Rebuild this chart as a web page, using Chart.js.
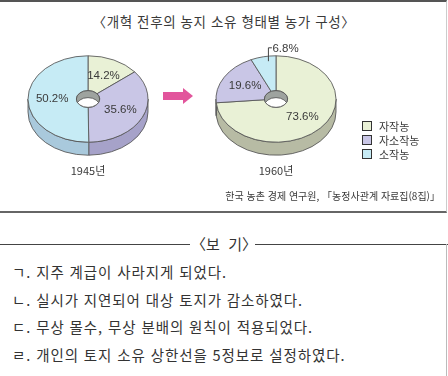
<!DOCTYPE html>
<html lang="ko">
<head>
  <meta charset="UTF-8">
  <title>개혁 전후의 농지 소유 형태별 농가 구성</title>
  <style>
    body { margin: 0; width: 448px; height: 376px; position: relative; background: #fff; overflow: hidden;
           font-family: "Noto Sans CJK KR", "Noto Sans", sans-serif; color: #333; }
    .abs { position: absolute; }
    #panel { left: 0; top: 0; width: 447px; height: 213px; box-sizing: border-box;
             border-top: 2px solid #555; border-bottom: 2px solid #666; border-right: 1px solid #ccc; }
    #title { left: 0; width: 448px; top: 11px; text-align: center; font-size: 13.5px; letter-spacing: 0.6px; color: #3a3a3a; }
    .year { font-size: 11px; width: 80px; text-align: center; top: 162px; color: #3a3a3a; }
    #legend { left: 362px; top: 119px; font-size: 11px; color: #3a3a3a; }
    #legend div { height: 14px; line-height: 14px; display: flex; align-items: center; }
    #legend span.box { width: 8px; height: 8px; border: 1px solid #333; margin-right: 7px; display: inline-block; }
    #source { right: 8px; top: 188px; font-size: 10px; color: #3a3a3a; white-space: nowrap; }
    #bogi { left: 0; top: 233px; width: 448px; height: 22px; }
    #bogi .line { position: absolute; top: 11px; height: 1px; background: #444; }
    #bogi .txt { position: absolute; left: 0; width: 448px; text-align: center; font-size: 15px; line-height: 22px; color: #333; }
    #rightEdge { left: 446px; top: 244px; width: 1px; height: 132px; background: #bbb; }
    #items { left: 12px; top: 260px; font-size: 14.5px; letter-spacing: 0.9px; color: #333; }
    #items div { height: 27.7px; line-height: 24px; white-space: nowrap; }
  </style>
</head>
<body>
  <div id="panel" class="abs"></div>
  <div id="title" class="abs">〈개혁 전후의 농지 소유 형태별 농가 구성〉</div>

  <canvas id="chart1945" class="abs" width="130" height="130" style="left:23px; top:34px;"></canvas>
  <canvas id="chart1960" class="abs" width="130" height="130" style="left:211px; top:34px;"></canvas>

  <svg class="abs" width="32" height="16" style="left:162px; top:88px;">
    <polygon points="1,4 21,4 21,0 31,8 21,16 21,12 1,12" fill="#e2559c"/>
  </svg>

  <div id="year0" class="abs year" style="left:48px;"></div>
  <div id="year1" class="abs year" style="left:236px;"></div>

  <div id="legend" class="abs"></div>
  <div id="source" class="abs">한국 농촌 경제 연구원, 「농정사관계 자료집(8집)」</div>

  <div id="bogi" class="abs">
    <div class="line" style="left:0; width:190px;"></div>
    <div class="line" style="left:255px; width:193px;"></div>
    <div class="txt">〈보&nbsp;&nbsp;기〉</div>
  </div>
  <div id="rightEdge" class="abs"></div>
  <div id="items" class="abs"></div>

  <script src="https://cdn.jsdelivr.net/npm/chart.js"></script>
  <script>
    // data
    const categories = ['자작농', '자소작농', '소작농'];
    const years = ['1945년', '1960년'];
    const values1945 = [14.2, 35.6, 50.2];
    const values1960 = [73.6, 19.6, 6.8];
    const bogiItems = [
      'ㄱ. 지주 계급이 사라지게 되었다.',
      'ㄴ. 실시가 지연되어 대상 토지가 감소하였다.',
      'ㄷ. 무상 몰수, 무상 분배의 원칙이 적용되었다.',
      'ㄹ. 개인의 토지 소유 상한선을 5정보로 설정하였다.'
    ];

    const topColors = ['#e9f1d6', '#c9c6e6', '#c6ebf5'];
    const sideColors = ['#b7bba4', '#a6a2c9', '#a9c9dc'];
    const EDGE = '#555';
    const SQUASH = 0.72;   // tilt of the disc
    const DEPTH = 13;      // thickness of the disc, px on screen
    const HOLE_DEPTH = 7;

    // tilted "3D" doughnut: squash the disc, draw the wall under it and the hole
    const pie3d = {
      id: 'pie3d',
      beforeDatasetsDraw(chart) {
        const ctx = chart.ctx;
        const arcs = chart.getDatasetMeta(0).data;
        const cx = arcs[0].x, cy = arcs[0].y;
        ctx.save();
        ctx.translate(cx, cy);
        ctx.scale(1, SQUASH);
        ctx.translate(-cx, -cy);
        const d = DEPTH / SQUASH;
        arcs.forEach((arc, i) => {
          const s = Math.max(arc.startAngle, 0);
          const e = Math.min(arc.endAngle, Math.PI);
          if (e <= s) return;
          ctx.beginPath();
          ctx.arc(cx, cy, arc.outerRadius, s, e);
          ctx.arc(cx, cy + d, arc.outerRadius, e, s, true);
          ctx.closePath();
          ctx.fillStyle = sideColors[i];
          ctx.fill();
          ctx.lineWidth = 1;
          ctx.strokeStyle = EDGE;
          ctx.stroke();
        });
      },
      afterDatasetsDraw(chart) {
        const ctx = chart.ctx;
        const arcs = chart.getDatasetMeta(0).data;
        const values = chart.data.datasets[0].data;
        const cx = arcs[0].x, cy = arcs[0].y;
        const r = arcs[0].innerRadius;

        // inside of the hole
        ctx.save();
        ctx.beginPath();
        ctx.arc(cx, cy, r, 0, Math.PI * 2);
        ctx.clip();
        ctx.fillStyle = '#9ea39f';
        ctx.fillRect(cx - r, cy - r, r * 2, r * 2);
        ctx.beginPath();
        ctx.arc(cx, cy + HOLE_DEPTH / SQUASH, r, 0, Math.PI * 2);
        ctx.fillStyle = '#fff';
        ctx.fill();
        ctx.lineWidth = 1;
        ctx.strokeStyle = EDGE;
        ctx.stroke();
        ctx.restore();
        ctx.beginPath();
        ctx.arc(cx, cy, r, 0, Math.PI * 2);
        ctx.lineWidth = 1;
        ctx.strokeStyle = EDGE;
        ctx.stroke();
        ctx.restore(); // end squash

        // percentage labels
        ctx.save();
        ctx.font = '11.5px "Liberation Sans", Arial, sans-serif';
        ctx.fillStyle = '#3a3a3a';
        ctx.textBaseline = 'middle';
        arcs.forEach((arc, i) => {
          const p = arc.tooltipPosition();
          const x = p.x;
          const y = cy + (p.y - cy) * SQUASH;
          const label = values[i].toFixed(1) + '%';
          if (values[i] < 10) {
            // small slice: label above the disc with a bracket line
            const yTop = cy - arc.outerRadius * SQUASH - 8;
            const yBot = cy + (p.y - cy) * SQUASH * 1.5;
            ctx.beginPath();
            ctx.moveTo(x + 3.5, yTop);
            ctx.lineTo(x, yTop);
            ctx.lineTo(x, yBot);
            ctx.strokeStyle = '#444';
            ctx.lineWidth = 1;
            ctx.stroke();
            ctx.textAlign = 'left';
            ctx.fillText(label, x + 4, yTop + 1);
          } else {
            ctx.textAlign = 'center';
            ctx.fillText(label, x, y);
          }
        });
        ctx.restore();
      }
    };

    function makePie(id, values) {
      return new Chart(document.getElementById(id), {
        type: 'doughnut',
        data: {
          labels: categories,
          datasets: [{
            data: values,
            backgroundColor: topColors,
            borderColor: EDGE,
            borderWidth: 1
          }]
        },
        options: {
          responsive: false,
          animation: false,
          events: [],
          radius: 60,
          cutout: 12.5,
          plugins: { legend: { display: false }, tooltip: { enabled: false } }
        },
        plugins: [pie3d]
      });
    }

    makePie('chart1945', values1945);
    makePie('chart1960', values1960);

    document.getElementById('year0').textContent = years[0];
    document.getElementById('year1').textContent = years[1];

    const legend = document.getElementById('legend');
    categories.forEach((c, i) => {
      const row = document.createElement('div');
      row.innerHTML = '<span class="box" style="background:' + topColors[i] + '"></span>' + c;
      legend.appendChild(row);
    });

    const items = document.getElementById('items');
    bogiItems.forEach(t => {
      const row = document.createElement('div');
      row.textContent = t;
      items.appendChild(row);
    });
  </script>
</body>
</html>
